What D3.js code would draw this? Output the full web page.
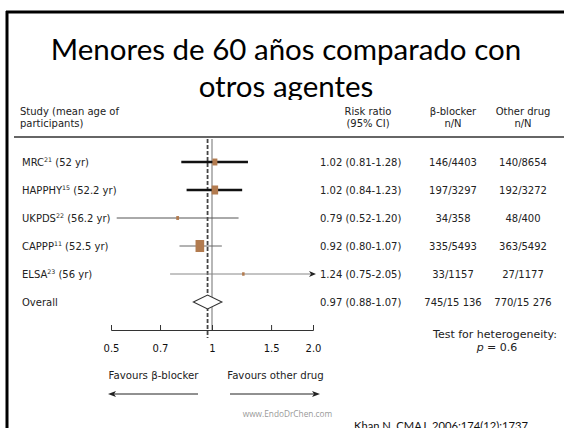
<!DOCTYPE html>
<html>
<head>
<meta charset="utf-8">
<script src="https://cdn.jsdelivr.net/npm/d3@7"></script>
<style>
  html, body { margin: 0; padding: 0; background: #fff; }
  svg { display: block; }
</style>
</head>
<body>
<svg id="chart" width="564" height="428"></svg>
<script>
// Study rows
const studies = ["MRC", "HAPPHY", "UKPDS", "CAPPP", "ELSA"];
const refs = ["21", "15", "22", "11", "23"];
const ages = ["52 yr", "52.2 yr", "56.2 yr", "52.5 yr", "56 yr"];
const rr = [1.02, 1.02, 0.79, 0.92, 1.24];
const ciLow = [0.81, 0.84, 0.52, 0.80, 0.75];
const ciHigh = [1.28, 1.23, 1.20, 1.07, 2.05];
const weights = [16, 27, 5, 48, 4];
const betaBlocker = ["146/4403", "197/3297", "34/358", "335/5493", "33/1157"];
const otherDrug = ["140/8654", "192/3272", "48/400", "363/5492", "27/1177"];

// Pooled estimate
const overallRR = 0.97;
const overallLow = 0.88;
const overallHigh = 1.07;
const overallBeta = "745/15 136";
const overallOther = "770/15 276";

const tickValues = [0.5, 0.7, 1, 1.5, 2.0];
const tickLabels = ["0.5", "0.7", "1", "1.5", "2.0"];

const svg = d3.select("#chart");
const bodyFont = "DejaVu Sans, Verdana, sans-serif";
const fmt = d3.format(".2f");

// Slide frame
svg.append("line").attr("x1", 6).attr("x2", 564).attr("y1", 12).attr("y2", 12)
  .attr("stroke", "#000").attr("stroke-width", 3);
svg.append("line").attr("x1", 7).attr("x2", 7).attr("y1", 11).attr("y2", 428)
  .attr("stroke", "#000").attr("stroke-width", 3);

// Slide title
const title = svg.append("g").attr("font-family", "Lato, 'Open Sans', sans-serif")
  .attr("font-size", 29.5).attr("fill", "#000").attr("text-anchor", "middle");
title.append("text").attr("x", 286).attr("y", 60).text("Menores de 60 años comparado con");
title.append("text").attr("x", 286).attr("y", 97).text("otros agentes");

// Figure panel sits over the lower part of the title box
svg.append("rect").attr("x", 9).attr("y", 100).attr("width", 555).attr("height", 328).attr("fill", "#fff");

const fig = svg.append("g").attr("font-family", bodyFont).attr("fill", "#222");

// Column headers
const hdr = fig.append("g").attr("font-size", 10);
hdr.append("text").attr("x", 20).attr("y", 115).text("Study (mean age of");
hdr.append("text").attr("x", 20).attr("y", 127).text("participants)");
const colRR = 368, colBeta = 453, colOther = 523;
[[colRR, "Risk ratio", "(95% CI)"], [colBeta, "\u03b2-blocker", "n/N"], [colOther, "Other drug", "n/N"]]
  .forEach(([x, a, b]) => {
    hdr.append("text").attr("x", x).attr("y", 115).attr("text-anchor", "middle").text(a);
    hdr.append("text").attr("x", x).attr("y", 127).attr("text-anchor", "middle").text(b);
  });
fig.append("line").attr("x1", 14).attr("x2", 564).attr("y1", 137).attr("y2", 137)
  .attr("stroke", "#333").attr("stroke-width", 1.5);

// Scales
const x = d3.scaleLog().domain([0.5, 2.0]).range([111, 313]);
const rowNames = studies.concat(["Overall"]);
const y = d3.scalePoint().domain(rowNames).range([162, 302]);
const boxH = d3.scaleSqrt().domain([0, 48]).range([0, 12]);

// Reference lines: no effect and pooled estimate
fig.append("line").attr("x1", x(1)).attr("x2", x(1)).attr("y1", 139).attr("y2", 330)
  .attr("stroke", "#999").attr("stroke-width", 1.4);
fig.append("line").attr("x1", x(overallRR)).attr("x2", x(overallRR)).attr("y1", 139).attr("y2", 338)
  .attr("stroke", "#444").attr("stroke-width", 1.8).attr("stroke-dasharray", "4,2");

// Confidence intervals and point estimates
const ciStroke = ["#111", "#111", "#555", "#666", "#888"];
const ciWidth = [2.4, 2.4, 1, 1, 1];
const xMax = x.domain()[1];
studies.forEach((s, i) => {
  const yy = y(s);
  const hi = Math.min(ciHigh[i], xMax);
  fig.append("line").attr("x1", x(ciLow[i])).attr("x2", x(hi)).attr("y1", yy).attr("y2", yy)
    .attr("stroke", ciStroke[i]).attr("stroke-width", ciWidth[i]);
  if (ciHigh[i] > xMax) {
    const tip = x(hi) + 3;
    fig.append("path")
      .attr("d", `M${tip},${yy} L${tip - 7},${yy - 3} L${tip - 5},${yy} L${tip - 7},${yy + 3} Z`)
      .attr("fill", "#222");
  }
  const h = boxH(weights[i]);
  const w = h * 0.72;
  fig.append("rect").attr("x", x(rr[i]) - w / 2).attr("y", yy - h / 2)
    .attr("width", w).attr("height", h).attr("fill", "#b27b4f");
});

// Pooled diamond
const yo = y("Overall");
fig.append("path")
  .attr("d", `M${x(overallLow)},${yo} L${x(overallRR)},${yo - 7} L${x(overallHigh)},${yo} L${x(overallRR)},${yo + 7} Z`)
  .attr("fill", "#fff").attr("stroke", "#333").attr("stroke-width", 1.1);

// Row text
const rows = fig.append("g").attr("font-size", 10);
rowNames.forEach((s, i) => {
  const yy = y(s) + 3.6;
  const t = rows.append("text").attr("x", 22).attr("y", yy);
  if (i < studies.length) {
    t.append("tspan").text(s);
    t.append("tspan").attr("font-size", 6.3).attr("dy", -4).text(refs[i]);
    t.append("tspan").attr("dy", 4).text(" (" + ages[i] + ")");
  } else {
    t.text("Overall");
  }
  const est = i < studies.length ? rr[i] : overallRR;
  const lo = i < studies.length ? ciLow[i] : overallLow;
  const hi = i < studies.length ? ciHigh[i] : overallHigh;
  rows.append("text").attr("x", 320).attr("y", yy)
    .text(`${fmt(est)} (${fmt(lo)}-${fmt(hi)})`);
  rows.append("text").attr("x", colBeta).attr("y", yy).attr("text-anchor", "middle")
    .text(i < studies.length ? betaBlocker[i] : overallBeta);
  rows.append("text").attr("x", colOther).attr("y", yy).attr("text-anchor", "middle")
    .text(i < studies.length ? otherDrug[i] : overallOther);
});

// Risk ratio axis
const axis = fig.append("g").attr("transform", "translate(0,330)")
  .call(d3.axisBottom(x).tickValues(tickValues).tickSize(-5).tickSizeOuter(-5)
    .tickFormat((d, i) => tickLabels[i]));
axis.select(".domain").attr("stroke", "#333").attr("stroke-width", 1);
axis.selectAll(".tick line").attr("stroke", "#333");
axis.selectAll(".tick text").attr("y", 22).attr("dy", 0)
  .attr("font-family", bodyFont).attr("font-size", 10).attr("fill", "#111");

// Direction labels and arrows
const dir = fig.append("g").attr("font-size", 10.2);
dir.append("text").attr("x", 153.5).attr("y", 379).attr("text-anchor", "middle").text("Favours \u03b2-blocker");
dir.append("text").attr("x", 275.5).attr("y", 379).attr("text-anchor", "middle").text("Favours other drug");
const ay = 394;
fig.append("line").attr("x1", 198).attr("x2", 112).attr("y1", ay).attr("y2", ay).attr("stroke", "#222").attr("stroke-width", 1);
fig.append("path").attr("d", `M108,${ay} L116,${ay - 3} L114,${ay} L116,${ay + 3} Z`).attr("fill", "#222");
fig.append("line").attr("x1", 230).attr("x2", 316).attr("y1", ay).attr("y2", ay).attr("stroke", "#222").attr("stroke-width", 1);
fig.append("path").attr("d", `M320,${ay} L312,${ay - 3} L314,${ay} L312,${ay + 3} Z`).attr("fill", "#222");

// Heterogeneity note
const het = fig.append("g").attr("font-size", 11).attr("text-anchor", "middle");
het.append("text").attr("x", 495).attr("y", 338).text("Test for heterogeneity:");
const pt = het.append("text").attr("x", 497).attr("y", 351);
pt.append("tspan").attr("font-style", "italic").text("p");
pt.append("tspan").text(" = 0.6");

// Source lines
svg.append("text").attr("x", 287.5).attr("y", 417).attr("text-anchor", "middle")
  .attr("font-family", "'Open Sans', sans-serif").attr("font-size", 8.3).attr("fill", "#999")
  .text("www.EndoDrChen.com");
svg.append("text").attr("x", 441).attr("y", 430).attr("text-anchor", "middle")
  .attr("font-family", "Lato, 'Open Sans', sans-serif").attr("font-size", 11.2).attr("fill", "#111")
  .text("Khan N. CMAJ. 2006;174(12):1737");
</script>
</body>
</html>
